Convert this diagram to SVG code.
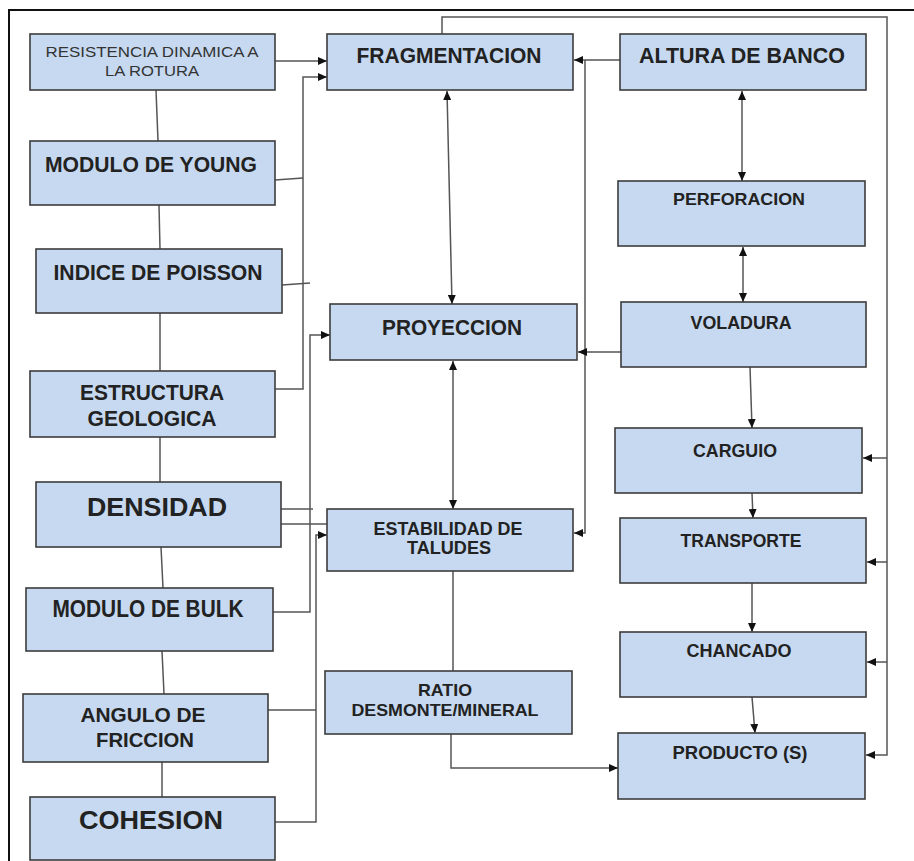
<svg xmlns="http://www.w3.org/2000/svg" width="914" height="861" viewBox="0 0 914 861">
<style>
.box{fill:#c6d9f0;stroke:#3c3c3c;stroke-width:1.6}
.t{font-family:"Liberation Sans",Arial,sans-serif;font-weight:bold;fill:#222;text-anchor:middle}
.r{font-family:"Liberation Sans",Arial,sans-serif;font-weight:normal;fill:#333;text-anchor:middle}
.c{stroke:#555;stroke-width:1.5;fill:none}
.a{marker-end:url(#ah)}
.d{marker-end:url(#ah);marker-start:url(#ah)}
</style>
<defs>
<marker id="ah" markerUnits="userSpaceOnUse" markerWidth="9" markerHeight="8" refX="9" refY="4" orient="auto-start-reverse">
<path d="M0,0 L9,4 L0,8 z" fill="#111"/>
</marker>
</defs>
<rect width="914" height="861" fill="#fff"/>
<path d="M9,861 L9,10 L914,10" stroke="#111" stroke-width="2" fill="none"/>

<g id="connectors">
<path class="c" d="M156,90 L158,141"/>
<path class="c" d="M159,205 L160,249"/>
<path class="c" d="M160,313 L160,371"/>
<path class="c" d="M160,437 L160,482"/>
<path class="c" d="M161,547 L163,588"/>
<path class="c" d="M162,651 L164,694"/>
<path class="c" d="M162,762 L162,797"/>
<path class="c a" d="M275,61 L327,61"/>
<path class="c a" d="M275,389 L303,389 L303,77 L327,77"/>
<path class="c" d="M275,180 L303,178"/>
<path class="c" d="M282,285 L310,283"/>
<path class="c a" d="M273,612 L310,612 L310,335 L330,335"/>
<path class="c" d="M281,509 L313,509"/>
<path class="c" d="M281,524 L327,524"/>
<path class="c" d="M268,710 L316,710"/>
<path class="c a" d="M275,822 L316,822 L316,535 L327,535"/>
<path class="c d" d="M447,91 L452,304"/>
<path class="c d" d="M453,361 L453,509"/>
<path class="c" d="M453,571 L453,671"/>
<path class="c a" d="M451,734 L451,768 L618,768"/>
<path class="c a" d="M620,60 L574,60"/>
<path class="c a" d="M585,60 L585,533 L574,533"/>
<path class="c a" d="M621,352 L578,352"/>
<path class="c d" d="M742,91 L742,181"/>
<path class="c d" d="M743,247 L743,302"/>
<path class="c a" d="M750,367 L752,428"/>
<path class="c a" d="M752,493 L753,518"/>
<path class="c a" d="M752,583 L752,632"/>
<path class="c a" d="M752,697 L755,733"/>
<path class="c a" d="M442,34 L442,17 L887,17 L887,755 L866,755"/>
<path class="c a" d="M887,458 L863,458"/>
<path class="c a" d="M887,562 L867,562"/>
<path class="c a" d="M887,662 L867,662"/>
</g>

<g id="resistencia"><rect class="box" x="30" y="34" width="245" height="56"/>
<text class="r" x="152" y="57" font-size="14" textLength="213" lengthAdjust="spacingAndGlyphs">RESISTENCIA DINAMICA A</text>
<text class="r" x="152" y="76" font-size="14" textLength="94" lengthAdjust="spacingAndGlyphs">LA ROTURA</text></g>
<g id="young"><rect class="box" x="30" y="141" width="245" height="64"/>
<text class="t" x="151" y="172" font-size="22" textLength="212" lengthAdjust="spacingAndGlyphs">MODULO DE YOUNG</text></g>
<g id="poisson"><rect class="box" x="36" y="249" width="246" height="64"/>
<text class="t" x="158" y="280" font-size="22" textLength="209" lengthAdjust="spacingAndGlyphs">INDICE DE POISSON</text></g>
<g id="estructura"><rect class="box" x="30" y="371" width="245" height="66"/>
<text class="t" x="152" y="400" font-size="22" textLength="144" lengthAdjust="spacingAndGlyphs">ESTRUCTURA</text>
<text class="t" x="152" y="426" font-size="22" textLength="129" lengthAdjust="spacingAndGlyphs">GEOLOGICA</text></g>
<g id="densidad"><rect class="box" x="36" y="482" width="245" height="65"/>
<text class="t" x="157" y="516" font-size="26" textLength="140" lengthAdjust="spacingAndGlyphs">DENSIDAD</text></g>
<g id="bulk"><rect class="box" x="26" y="588" width="247" height="63"/>
<text class="t" x="148" y="617" font-size="23" textLength="191" lengthAdjust="spacingAndGlyphs">MODULO DE BULK</text></g>
<g id="angulo"><rect class="box" x="23" y="694" width="245" height="68"/>
<text class="t" x="143" y="722" font-size="21" textLength="125" lengthAdjust="spacingAndGlyphs">ANGULO DE</text>
<text class="t" x="145" y="747" font-size="21" textLength="98" lengthAdjust="spacingAndGlyphs">FRICCION</text></g>
<g id="cohesion"><rect class="box" x="30" y="797" width="245" height="63"/>
<text class="t" x="151" y="829" font-size="26" textLength="144" lengthAdjust="spacingAndGlyphs">COHESION</text></g>

<g id="fragmentacion"><rect class="box" x="327" y="34" width="246" height="56"/>
<text class="t" x="449" y="63" font-size="22" textLength="185" lengthAdjust="spacingAndGlyphs">FRAGMENTACION</text></g>
<g id="proyeccion"><rect class="box" x="330" y="304" width="247" height="56"/>
<text class="t" x="452" y="335" font-size="22" textLength="140" lengthAdjust="spacingAndGlyphs">PROYECCION</text></g>
<g id="estabilidad"><rect class="box" x="327" y="509" width="246" height="62"/>
<text class="t" x="448" y="535" font-size="18" textLength="149" lengthAdjust="spacingAndGlyphs">ESTABILIDAD DE</text>
<text class="t" x="449" y="554" font-size="18" textLength="84" lengthAdjust="spacingAndGlyphs">TALUDES</text></g>
<g id="ratio"><rect class="box" x="325" y="671" width="247" height="63"/>
<text class="t" x="445" y="696" font-size="17" textLength="54" lengthAdjust="spacingAndGlyphs">RATIO</text>
<text class="t" x="445" y="716" font-size="17" textLength="187" lengthAdjust="spacingAndGlyphs">DESMONTE/MINERAL</text></g>

<g id="altura"><rect class="box" x="620" y="34" width="246" height="56"/>
<text class="t" x="742" y="63" font-size="22" textLength="206" lengthAdjust="spacingAndGlyphs">ALTURA DE BANCO</text></g>
<g id="perforacion"><rect class="box" x="618" y="181" width="247" height="65"/>
<text class="t" x="739" y="205" font-size="16.5" textLength="132" lengthAdjust="spacingAndGlyphs">PERFORACION</text></g>
<g id="voladura"><rect class="box" x="621" y="302" width="245" height="65"/>
<text class="t" x="741" y="329" font-size="18" textLength="101" lengthAdjust="spacingAndGlyphs">VOLADURA</text></g>
<g id="carguio"><rect class="box" x="615" y="428" width="247" height="65"/>
<text class="t" x="735" y="457" font-size="18" textLength="84" lengthAdjust="spacingAndGlyphs">CARGUIO</text></g>
<g id="transporte"><rect class="box" x="620" y="518" width="246" height="65"/>
<text class="t" x="741" y="547" font-size="18" textLength="121" lengthAdjust="spacingAndGlyphs">TRANSPORTE</text></g>
<g id="chancado"><rect class="box" x="620" y="632" width="246" height="65"/>
<text class="t" x="739" y="657" font-size="18" textLength="105" lengthAdjust="spacingAndGlyphs">CHANCADO</text></g>
<g id="producto"><rect class="box" x="618" y="733" width="247" height="66"/>
<text class="t" x="740" y="759" font-size="18" textLength="135" lengthAdjust="spacingAndGlyphs">PRODUCTO (S)</text></g>
</svg>
